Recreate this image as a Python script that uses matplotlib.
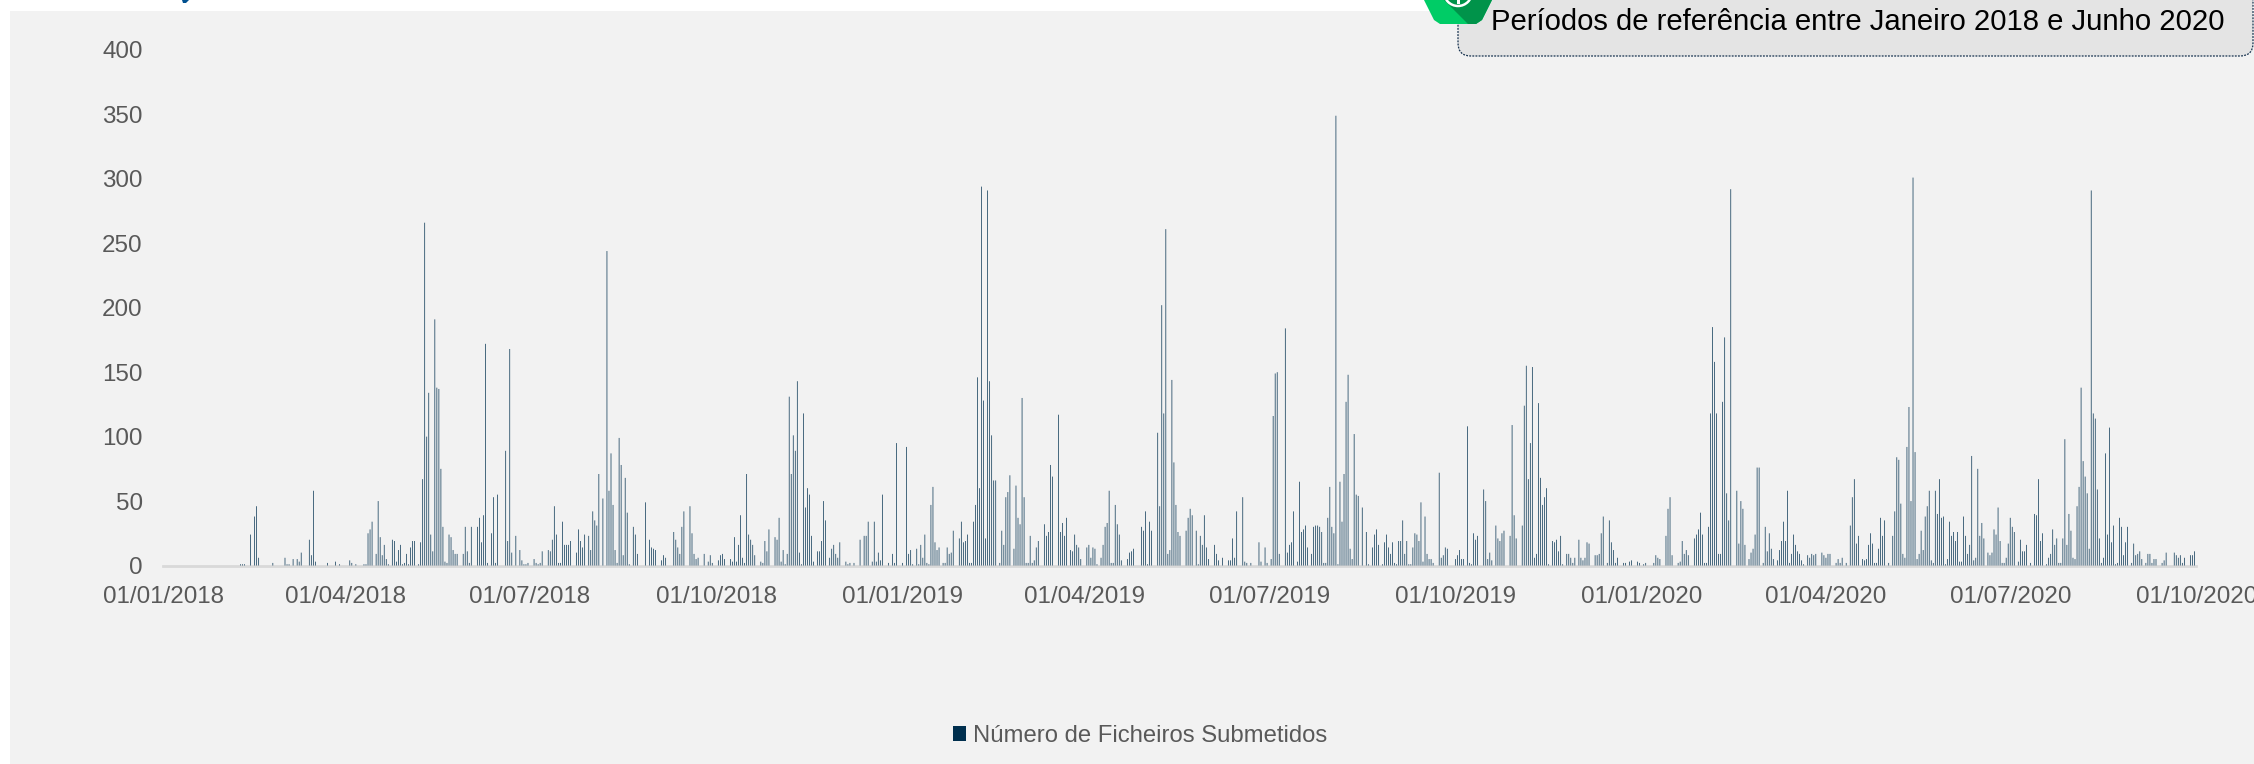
import numpy as np
import matplotlib
matplotlib.use("Agg")
import matplotlib.pyplot as plt
from matplotlib.patches import FancyBboxPatch, Polygon, Circle, Rectangle

plt.rcParams['font.family'] = ['Liberation Sans', 'DejaVu Sans']

# days counted from 01/01/2018
days_2018 = [38,39,40,43,45,46,47,54,60,61,62,64,66,67,68,72,73,74,75,81,
             85,87,92,93,95,99,100,101,102,103,105,106,107,108,109,110,111,113,114,115,
             116,117,118,119,120,121,122,123,124,126,127,128,129,130,131,132,133,134,135,136,
             137,138,139,140,141,142,143,144,145,148,149,150,151,152,155,156,157,158,159,160,
             162,163,164,165,169,170,171,172,174,176,177,178,179,180,183,184,185,186,187,190,
             191,192,193,194,195,196,197,198,199,200,201,204,205,206,207,208,210,211,212,213,
             214,215,217,219,220,221,222,223,224,225,226,227,228,229,230,232,233,234,238,240,
             241,242,243,246,247,248,252,253,254,255,256,257,260,261,262,263,264,267,269,270,
             271,274,275,276,277,280,281,282,283,284,285,286,287,288,289,290,291,292,295,296,
             297,298,299,302,303,304,305,306,307,308,309,310,311,312,313,314,315,316,317,318,
             319,320,321,323,324,325,326,327,329,330,331,332,333,334,337,338,339,341,344,346,
             347,348,350,351,352,353,354,355,358,360,361,362]
counts_2018 = [1,1,1,24,38,46,6,2,6,1,1,5,5,3,10,20,8,58,3,2,
               3,1,4,2,1,1,1,25,28,34,9,50,22,8,16,5,1,20,19,3,
               12,16,1,2,9,1,14,19,19,1,18,67,266,100,134,24,11,191,138,137,
               75,30,3,2,24,22,12,9,9,9,30,11,2,30,30,37,18,39,172,2,
               25,53,2,55,89,19,168,10,23,12,4,1,1,2,5,2,1,2,11,12,
               11,20,46,24,2,2,34,16,16,16,19,10,28,19,14,24,23,12,42,35,
               31,71,52,244,58,87,47,12,2,99,78,8,68,41,1,30,24,9,49,20,
               14,13,12,4,8,6,26,20,14,9,30,42,46,25,9,5,6,9,3,8,
               2,4,8,9,5,5,3,22,3,16,39,6,2,71,24,20,16,8,3,2,
               19,11,28,22,20,37,3,12,1,9,131,71,101,89,143,10,1,118,45,60,
               55,23,3,11,11,19,50,35,6,13,16,9,6,18,3,1,2,2,20,23,
               23,34,3,34,3,10,4,55,2,9,2,95]

days_2019 = [365,367,368,369,370,372,373,374,375,376,377,378,379,380,381,382,383,385,386,387,
             388,389,390,393,394,395,396,397,398,399,400,401,402,403,404,405,406,407,408,409,
             410,411,413,414,415,416,417,418,420,421,422,423,424,425,426,427,428,429,430,431,
             432,435,436,437,438,439,442,443,444,445,446,448,449,450,451,452,453,456,457,458,
             459,460,461,463,464,465,466,467,468,469,470,471,472,473,476,477,478,479,483,484,
             485,486,487,488,491,492,493,494,495,496,497,498,499,500,501,502,505,506,507,508,
             510,511,512,513,514,515,516,519,520,521,523,526,527,528,529,530,533,534,535,537,
             541,542,544,545,547,548,549,550,551,554,555,556,557,558,560,561,562,563,564,565,
             567,568,569,570,571,572,573,574,575,576,577,578,579,580,581,582,583,584,585,586,
             587,588,589,590,592,594,595,597,598,599,600,602,603,604,605,606,607,608,609,610,
             611,612,613,614,615,616,617,618,619,620,621,622,623,624,625,626,627,630,631,632,
             633,634,638,639,640,641,642,644,645,646,647,648,649,652,653,654,655,656,658,659,
             660,661,662,665,666,667,668,671,672,673,674,675,676,677,678,679,680,681,682,683,
             684,686,687,688,689,690,691,693,694,695,696,697,699,700,701,702,703,704,707,708,
             709,710,711,713,714,715,716,717,718,721,722,724,725,728,729]
counts_2019 = [2,92,9,12,1,13,1,16,6,24,2,1,47,61,18,12,14,2,2,14,
               9,10,27,21,34,18,19,24,2,2,34,47,146,60,294,128,21,291,143,101,
               66,66,2,27,16,53,57,70,13,62,37,32,130,53,2,2,23,2,4,14,
               19,32,23,26,78,69,117,26,33,23,37,12,11,24,16,14,5,14,16,6,
               14,13,1,6,16,30,33,58,2,2,47,32,24,4,5,10,11,13,30,27,
               42,1,34,27,103,46,202,118,261,9,12,144,80,47,26,23,27,37,44,39,
               27,1,23,16,39,14,5,16,9,4,6,4,4,21,6,42,53,3,2,2,
               18,3,14,2,5,116,149,150,9,184,10,16,18,42,3,65,26,28,31,14,
               9,30,31,31,30,26,2,2,37,61,30,25,349,1,65,34,71,127,148,13,
               5,102,55,54,45,26,1,14,24,28,16,1,18,24,14,9,18,2,1,19,
               19,35,9,19,1,1,14,25,24,19,49,3,38,9,5,5,2,72,6,8,
               14,13,5,8,12,5,5,108,2,1,25,20,23,59,50,5,10,4,31,21,
               19,25,27,23,109,39,21,31,124,155,67,95,154,6,9,126,68,47,53,60,
               1,19,18,20,11,23,1,9,9,6,2,6,20,6,4,6,18,17,8,8,
               9,25,38,2,35,18,12,2,6,2,2,3,4,3,2]

days_2020 = [731,732,736,737,738,739,742,743,744,745,748,749,750,751,752,753,756,757,758,759,
             760,761,762,763,764,765,766,767,768,769,770,771,772,773,774,777,778,779,780,781,
             783,784,785,786,787,788,790,791,792,793,794,795,797,798,799,800,801,802,803,804,
             805,806,807,808,809,810,812,813,814,815,816,819,820,821,822,823,826,827,828,829,
             831,833,834,835,836,837,839,840,841,842,843,844,845,846,847,848,849,850,852,854,
             855,856,857,858,859,860,861,862,863,864,865,866,867,868,869,870,871,872,873,874,
             875,876,877,878,879,880,881,882,883,884,885,886,887,888,889,890,891,892,893,894,
             895,896,897,898,899,901,902,903,904,905,906,907,908,909,910,911,912,913,914,916,
             917,918,919,920,922,924,925,926,927,928,930,931,932,933,934,935,936,937,938,939,
             940,941,942,943,944,945,946,947,948,949,950,951,952,953,954,955,956,957,958,959,
             960,961,962,963,964,965,966,967,968,969,970,972,973,974,975,976,977,979,980,981,
             982,983,984,987,988,989,993,994,995,996,997,998,1001,1002,1003]
counts_2020 = [1,2,2,8,6,5,23,44,53,8,2,3,19,9,12,8,21,24,28,41,
               24,2,2,30,118,185,158,118,9,9,127,177,56,35,292,58,17,50,44,16,
               5,10,13,24,76,76,2,30,11,25,13,5,4,12,19,34,19,58,2,9,
               24,16,11,9,4,1,8,6,9,8,9,10,8,6,9,9,2,5,2,6,
               2,31,53,67,17,23,5,4,5,16,25,17,2,2,13,37,23,35,2,23,
               42,84,82,48,9,6,92,123,50,301,88,5,9,27,12,38,46,58,4,2,
               58,40,67,37,38,1,5,34,23,26,19,26,3,3,38,23,9,16,85,4,
               6,75,23,33,21,10,8,10,28,24,45,19,2,2,6,17,37,30,26,3,
               20,11,11,16,2,40,39,67,19,25,1,6,9,28,16,21,2,2,21,98,
               16,40,27,6,5,46,61,138,81,69,56,13,291,118,114,59,21,2,6,87,
               24,107,18,31,1,2,37,30,8,18,30,2,17,8,9,11,5,2,9,9,
               2,5,5,2,4,10,10,8,6,8,2,6,8,8,11]

tick_dates = ['2018-01-01','2018-04-01','2018-07-01','2018-10-01','2019-01-01','2019-04-01',
              '2019-07-01','2019-10-01','2020-01-01','2020-04-01','2020-07-01','2020-10-01']
tick_labels = ['01/01/2018','01/04/2018','01/07/2018','01/10/2018','01/01/2019','01/04/2019',
               '01/07/2019','01/10/2019','01/01/2020','01/04/2020','01/07/2020','01/10/2020']
y_ticks = [0, 50, 100, 150, 200, 250, 300, 350, 400]
series_name = 'Número de Ficheiros Submetidos'
note_text = 'Períodos de referência entre Janeiro 2018 e Junho 2020'

assert len(days_2018) == len(counts_2018), (len(days_2018), len(counts_2018))
assert len(days_2019) == len(counts_2019), (len(days_2019), len(counts_2019))
assert len(days_2020) == len(counts_2020), (len(days_2020), len(counts_2020))

W, H = 2254, 764
GREY = '#595959'
BAR = '#002F4E'

fig = plt.figure(figsize=(W / 100, H / 100), dpi=100, facecolor='white')

# panel behind the chart, in pixels
back = fig.add_axes([0, 0, 1, 1], zorder=0)
back.set_xlim(0, W)
back.set_ylim(H, 0)
back.axis('off')
back.add_patch(Rectangle((10, 11), W - 10, H - 11, facecolor='#F2F2F2', edgecolor='none'))
back.add_patch(Polygon([(182, 0), (189, 0), (186, 3), (183, 3)], facecolor='#00508F', edgecolor='none'))

left, right, top, bottom = 163.5, 2196.5, 50, 565.5
ax = fig.add_axes([left / W, 1 - bottom / H, (right - left) / W, (bottom - top) / H], zorder=1)
ax.patch.set_alpha(0)

start = np.datetime64('2018-01-01')
days = np.array(days_2018 + days_2019 + days_2020)
counts = np.array(counts_2018 + counts_2019 + counts_2020)
bars = ax.bar(start + days.astype('timedelta64[D]'), counts, width=0.34, color=BAR,
              linewidth=0, snap=False, zorder=3, label=series_name)

ax.set_xlim(start, np.datetime64('2020-10-01'))
ax.set_ylim(0, 400)
ax.set_yticks(y_ticks)
ax.set_xticks(np.array(tick_dates, dtype='datetime64[D]'))
ax.set_xticklabels(tick_labels)
ax.tick_params(axis='both', length=0, labelsize=17.4, labelcolor=GREY)
ax.tick_params(axis='x', pad=15)
ax.tick_params(axis='y', pad=15)
for side in ['top', 'right', 'left']:
    ax.spines[side].set_visible(False)
ax.spines['bottom'].set_color('#D9D9D9')
ax.spines['bottom'].set_linewidth(2)

ax.legend(loc='center', bbox_to_anchor=(1140 / W, 1 - 736 / H), bbox_transform=fig.transFigure,
          frameon=False, fontsize=17.2, labelcolor=GREY, handlelength=0.55, handleheight=0.55,
          handletextpad=0.3)

# note box and badge at the top right, in pixels
over = fig.add_axes([0, 0, 1, 1], zorder=2)
over.set_xlim(0, W)
over.set_ylim(H, 0)
over.axis('off')
over.add_patch(FancyBboxPatch((1458, -40), 795, 96, boxstyle='round,pad=0,rounding_size=13',
                              facecolor='#E4E4E4', edgecolor='#16324F', linewidth=0.9,
                              linestyle=(0, (1.5, 1))))
over.text(1491, 22, note_text, fontsize=21.1, color='black', ha='left', va='center')

over.add_patch(Polygon([(1424, 0), (1434, 20), (1440, 24), (1476, 24), (1482, 20), (1492, 0)],
                       facecolor='#00CC66', edgecolor='none'))
over.add_patch(Polygon([(1444, 0), (1468, 24), (1476, 24), (1482, 20), (1492, 0)],
                       facecolor='#00934A', edgecolor='none'))
over.add_patch(Circle((1458, -8), 14, facecolor='none', edgecolor='white', linewidth=1.8))
over.add_patch(Rectangle((1456.5, 0), 3, 4, facecolor='white', edgecolor='none'))

fig.savefig('out.png', dpi=100, facecolor='white')
